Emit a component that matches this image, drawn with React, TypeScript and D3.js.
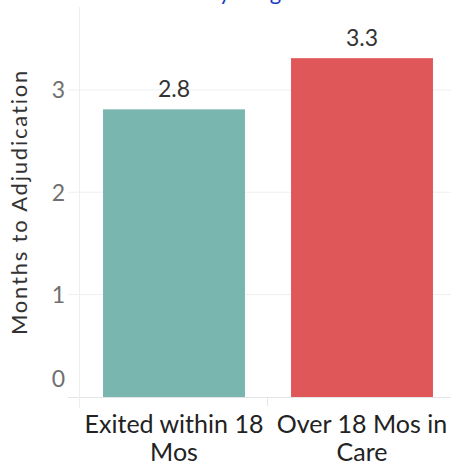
import React from "react";
import * as d3 from "d3";

const categories = ["Exited within 18 Mos", "Over 18 Mos in Care"];
const categoryLines = [["Exited within 18", "Mos"], ["Over 18 Mos in", "Care"]];
const values = [2.81, 3.31];
const valueLabels = ["2.8", "3.3"];
const colors = ["#79b6af", "#e05759"];
const yTicks = [0, 1, 2, 3];
const axisTitle = "Months to Adjudication";
const titleText = "by Length";

const W = 451;
const H = 468;
const FONT = "Lato, 'Open Sans', sans-serif";

export default function App() {
  const x = d3.scaleBand<string>().domain(categories).range([80, 456]).padding(0);
  const y = d3.scaleLinear().domain([0, 3.8]).range([397, 8]);
  const barW = x.bandwidth() * 0.755;

  return (
    <svg
      width={W}
      height={H}
      style={{ position: "absolute", left: 0, top: 0, background: "#fff" }}
      fontFamily={FONT}
    >
      {/* clipped title */}
      <text x={207} y={0} fontSize={22} fill="#1b36c8">
        {titleText}
      </text>

      {/* gridlines */}
      {yTicks
        .filter((t) => t > 0)
        .map((t) => (
          <line key={t} x1={68} x2={W} y1={y(t)} y2={y(t)} stroke="#efefef" strokeWidth={1} />
        ))}

      {/* bars */}
      {categories.map((c, i) => {
        const cx = (x(c) as number) + x.bandwidth() / 2;
        return (
          <g key={c}>
            <rect
              x={cx - barW / 2}
              y={y(values[i])}
              width={barW}
              height={y(0) - y(values[i])}
              fill={colors[i]}
            />
            <text
              x={cx}
              y={y(values[i]) - 12.5}
              textAnchor="middle"
              fontSize={23}
              fill="#333"
            >
              {valueLabels[i]}
            </text>
          </g>
        );
      })}

      {/* axes */}
      <line x1={68} x2={W} y1={y(0) + 0.5} y2={y(0) + 0.5} stroke="#e4e4e4" strokeWidth={1} />
      <line x1={79.5} x2={79.5} y1={7} y2={408} stroke="#eeeeee" strokeWidth={1} />
      {categories.slice(1).map((c) => (
        <line
          key={c}
          x1={(x(c) as number) - 0.5}
          x2={(x(c) as number) - 0.5}
          y1={397}
          y2={406}
          stroke="#e4e4e4"
          strokeWidth={1}
        />
      ))}

      {/* y tick labels */}
      {yTicks.map((t) => (
        <text
          key={t}
          x={65}
          y={t === 0 ? y(t) - 18 : y(t)}
          dy="0.36em"
          textAnchor="end"
          fontSize={23}
          fill="#707070"
        >
          {t}
        </text>
      ))}

      {/* axis title */}
      <text
        transform={`translate(27, 202) rotate(-90)`}
        textAnchor="middle"
        fontSize={22}
        letterSpacing={1.8}
        fill="#333"
      >
        {axisTitle}
      </text>

      {/* category labels */}
      {categories.map((c, i) => {
        const cx = (x(c) as number) + x.bandwidth() / 2;
        return (
          <text key={c} textAnchor="middle" fontSize={25} fill="#222">
            {categoryLines[i].map((ln, j) => (
              <tspan key={j} x={cx} y={433 + j * 28}>
                {ln}
              </tspan>
            ))}
          </text>
        );
      })}
    </svg>
  );
}
